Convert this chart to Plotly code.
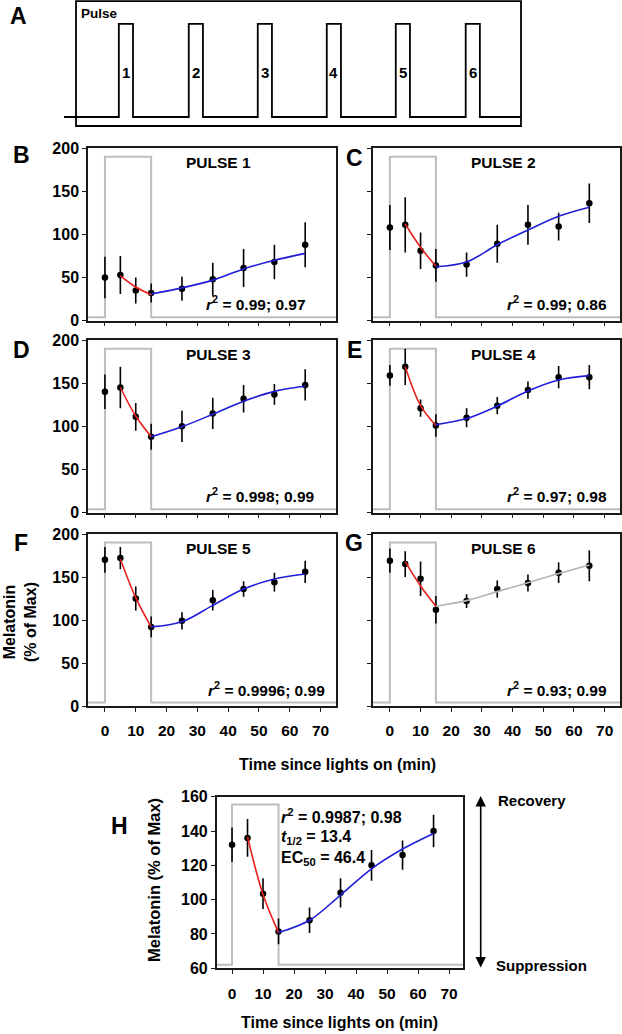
import plotly.graph_objects as go

W, H = 622, 1034
FONT = "Liberation Sans, Arial, sans-serif"

# ---------------- data ----------------
minutes = [0, 5, 10, 15, 25, 35, 45, 55, 65]

p1_mean = [50, 53, 35, 32, 37, 48, 61, 68, 88]
p1_err = [24, 22, 15, 11, 14, 19, 22, 20, 26]
p2_mean = [108, 111, 81, 64, 65, 89, 111, 109, 136]
p2_err = [26, 32, 21, 19, 14, 22, 23, 16, 23]
p3_mean = [140, 145, 111, 88, 100, 115, 132, 137, 148]
p3_err = [20, 24, 16, 15, 18, 18, 16, 12, 18]
p4_mean = [159, 169, 121, 101, 110, 124, 142, 157, 157]
p4_err = [12, 21, 10, 13, 11, 10, 10, 13, 14]
p5_mean = [170, 172, 125, 92, 99, 123, 136, 144, 156]
p5_err = [15, 13, 14, 12, 10, 12, 9, 11, 13]
p6_mean = [169, 165, 148, 112, 122, 136, 143, 155, 163]
p6_err = [14, 15, 20, 16, 8, 10, 10, 12, 18]
avg_mean = [132, 136, 103.5, 81.5, 88, 104, 120, 126, 140]
avg_err = [10, 11, 9, 7.5, 7.5, 8.5, 9, 8.5, 9.5]

# fitted curves
fit_sup_x = [5, 10, 15]
fit_rec_x = [15, 25, 35, 45, 55, 65]
p1_sup = [52, 39, 30]
p1_rec = [31, 38, 47, 60, 70, 78]
p2_sup = [112, 85, 63]
p2_rec = [62.5, 68, 88, 105, 121, 131.5]
p3_sup = [145, 112, 88]
p3_rec = [88, 99.6, 114, 129, 140.5, 146.7]
p4_sup = [169, 124, 101]
p4_rec = [102, 109, 123.5, 141, 153.7, 158.7]
p5_sup = [171, 126, 92]
p5_rec = [92, 98, 117, 136, 147.7, 153.5]
p6_sup = [167.8, 139.5, 116]
p6_rec = [116, 122.5, 133, 143.4, 154, 164]
avg_sup = [136.5, 103, 80.8]
avg_rec = [80.8, 88, 102.7, 118, 129.5, 138.6]

# light pulse (grey step)
light_x = [-5.5, 0, 0, 15, 15, 75]
light_y = [4, 4, 190, 190, 4, 4]
light_x_avg = [-5, 0, 0, 15, 15, 74.5]
light_y_avg = [62, 62, 155.5, 155.5, 62, 62]

# panel A schematic
pulse_starts = [12.0, 27.3, 42.4, 57.5, 72.6, 87.9]
pulse_width = 3.1
pulse_labels = ["1", "2", "3", "4", "5", "6"]

panel_titles = ["PULSE 1", "PULSE 2", "PULSE 3", "PULSE 4", "PULSE 5", "PULSE 6"]
r2_texts = ["0.99; 0.97", "0.99; 0.86", "0.998; 0.99", "0.97; 0.98", "0.9996; 0.99", "0.93; 0.99"]
x_ticks = [0, 10, 20, 30, 40, 50, 60, 70]

# ---------------- helpers ----------------
def px_x(a, b):
    return [a / W, b / W]

def px_y(top, bottom):
    return [1 - bottom / H, 1 - top / H]

def paper_text(px, py, text, size, xanchor="center", angle=0):
    return dict(x=px / W, y=1 - py / H, xref="paper", yref="paper", text=text,
                xanchor=xanchor, yanchor="middle", textangle=angle,
                showarrow=False, font=dict(size=size))

fig = go.Figure()

# panel A
ax_x, ax_y = [0], [0]
for s in pulse_starts:
    ax_x += [s, s, s + pulse_width, s + pulse_width]
    ax_y += [0, 1, 1, 0]
ax_x.append(100)
ax_y.append(0)
fig.add_trace(go.Scatter(x=ax_x, y=ax_y, mode="lines", line=dict(color="black", width=1.8),
                         xaxis="x", yaxis="y", showlegend=False, hoverinfo="skip"))

layout = dict(
    width=W, height=H, margin=dict(l=0, r=0, t=0, b=0, autoexpand=False),
    paper_bgcolor="white", plot_bgcolor="white", showlegend=False,
    font=dict(family=FONT, color="black"),
)
layout["xaxis"] = dict(domain=px_x(64, 521), range=[0, 100], visible=False)
layout["yaxis"] = dict(domain=px_y(1, 126), range=[-0.097, 1.247], visible=False)

annotations = []
shapes = []
shapes.append(dict(type="rect", xref="paper", yref="paper",
                   x0=76 / W, x1=521 / W, y0=1 - 126 / H, y1=1 - 1.2 / H,
                   line=dict(color="black", width=1.8)))
for s, lab in zip(pulse_starts, pulse_labels):
    annotations.append(dict(x=s + pulse_width / 2, y=0.48, xref="x", yref="y", text="<b>" + lab + "</b>",
                            xanchor="center", yanchor="middle",
                            showarrow=False, font=dict(size=15)))
annotations.append(paper_text(79, 13, "<b>Pulse</b>", 13.5, xanchor="left"))
annotations.append(paper_text(18, 16, "<b>A</b>", 23))

panels = [
    (p1_mean, p1_err, p1_sup, p1_rec, "#1e1ed8"),
    (p2_mean, p2_err, p2_sup, p2_rec, "#1e1ed8"),
    (p3_mean, p3_err, p3_sup, p3_rec, "#1e1ed8"),
    (p4_mean, p4_err, p4_sup, p4_rec, "#1e1ed8"),
    (p5_mean, p5_err, p5_sup, p5_rec, "#1e1ed8"),
    (p6_mean, p6_err, p6_sup, p6_rec, "#b6b6ae"),
]
col_x = [(88, 336), (373, 620)]
row_y = [(148, 320.7), (340, 512.7), (534, 706)]
letters = ["B", "C", "D", "E", "F", "G"]
letter_pos = [(21, 155), (354, 158), (21, 350), (354, 350), (21, 543), (354, 543)]
r2_right = [0.888, 0.957, 0.922, 0.957, 0.962, 0.957]

axis_common = dict(showline=True, linecolor="#1a1a1a", linewidth=1.5, mirror=True,
                   ticks="outside", ticklen=4, tickwidth=1.3, tickcolor="#1a1a1a",
                   showgrid=False, zeroline=False)
tick_font_y = dict(family=FONT, size=16, color="black", weight="bold")
tick_font_x = dict(family=FONT, size=15.5, color="black", weight="bold")

def add_panel(idx, mean, err, sup, rec, rec_color, lx, ly, xdom, ydom, xr, yr, yticks, show_xl, show_yl):
    xa = "x%d" % idx
    ya = "y%d" % idx
    fig.add_trace(go.Scatter(x=lx, y=ly, mode="lines", line=dict(color="#bdbdbd", width=2),
                             xaxis=xa, yaxis=ya, hoverinfo="skip"))
    fig.add_trace(go.Scatter(x=minutes, y=mean, mode="markers",
                             marker=dict(color="black", size=6.5),
                             error_y=dict(type="data", array=err, color="black", thickness=1.6, width=0),
                             xaxis=xa, yaxis=ya))
    fig.add_trace(go.Scatter(x=fit_sup_x, y=sup, mode="lines", line=dict(color="#e8201c", width=1.6, shape="spline"),
                             xaxis=xa, yaxis=ya))
    fig.add_trace(go.Scatter(x=fit_rec_x, y=rec, mode="lines", line=dict(color=rec_color, width=1.6, shape="spline"),
                             xaxis=xa, yaxis=ya))
    layout["xaxis%d" % idx] = dict(axis_common, domain=xdom, range=xr, tickvals=x_ticks,
                                   showticklabels=show_xl, anchor=ya, ticklabelstandoff=6,
                                   tickfont=tick_font_x)
    layout["yaxis%d" % idx] = dict(axis_common, domain=ydom, range=yr, tickvals=yticks,
                                   showticklabels=show_yl, anchor=xa, tickfont=tick_font_y)

for i, (mean, err, sup, rec, col) in enumerate(panels):
    idx = i + 2
    c = i % 2
    r = i // 2
    xdom = px_x(*col_x[c])
    ydom = px_y(*row_y[r])
    add_panel(idx, mean, err, sup, rec, col, light_x, light_y, xdom, ydom, [-5.5, 75], [0, 200],
              [0, 50, 100, 150, 200], r == 2, c == 0)
    annotations.append(dict(x=37, y=183, xref="x%d" % idx, yref="y%d" % idx,
                            xanchor="center", yanchor="middle",
                            text="<b>" + panel_titles[i] + "</b>", showarrow=False,
                            font=dict(size=15.5)))
    annotations.append(dict(x=r2_right[i], y=20, xref="x%d domain" % idx, yref="y%d" % idx,
                            xanchor="right", yanchor="middle",
                            text="<b><i>r</i><sup>2</sup> = " + r2_texts[i] + "</b>", showarrow=False,
                            font=dict(size=15.5)))
    lp = letter_pos[i]
    annotations.append(paper_text(lp[0], lp[1], "<b>" + letters[i] + "</b>", 23))

# panel H
add_panel(8, avg_mean, avg_err, avg_sup, avg_rec, "#1e1ed8", light_x_avg, light_y_avg,
          px_x(216.7, 462.7), px_y(796.7, 968.3), [-4.94, 74.4], [60, 160],
          [60, 80, 100, 120, 140, 160], True, True)
h_lines = ["<b><i>r</i><sup>2</sup> = 0.9987; 0.98</b>",
           "<b><i>t</i><sub>1/2</sub> = 13.4</b>",
           "<b>EC<sub>50</sub> = 46.4</b>"]
for t, yv in zip(h_lines, [149, 136.5, 124]):
    annotations.append(dict(x=15.0, y=yv, xref="x8", yref="y8", xanchor="left", yanchor="middle",
                            text=t, showarrow=False, font=dict(size=16)))
annotations.append(paper_text(120, 826, "<b>H</b>", 23))

# axis titles
annotations.append(paper_text(337, 764, "<b>Time since lights on (min)</b>", 16))
annotations.append(paper_text(339, 1022, "<b>Time since lights on (min)</b>", 16))
annotations.append(paper_text(20, 622, "<b>Melatonin<br>(% of Max)</b>", 16, angle=-90))
annotations.append(paper_text(154, 880, "<b>Melatonin (% of Max)</b>", 16.5, angle=-90))

# recovery / suppression arrow
annotations.append(dict(x=480.7 / W, y=1 - 796 / H, xref="paper", yref="paper",
                        ax=0, ay=173, axref="pixel", ayref="pixel",
                        text="", showarrow=True, arrowhead=2, arrowside="end+start",
                        arrowwidth=1.6, arrowsize=1.3, arrowcolor="black"))
annotations.append(paper_text(496, 800, "<b>Recovery</b>", 15, xanchor="left"))
annotations.append(paper_text(494, 965, "<b>Suppression</b>", 15, xanchor="left"))

layout["annotations"] = annotations
layout["shapes"] = shapes
fig.update_layout(**layout)
fig.write_html("out.html", config={"displayModeBar": False},
               post_script="document.body.style.margin='0';document.body.style.overflow='hidden';")
